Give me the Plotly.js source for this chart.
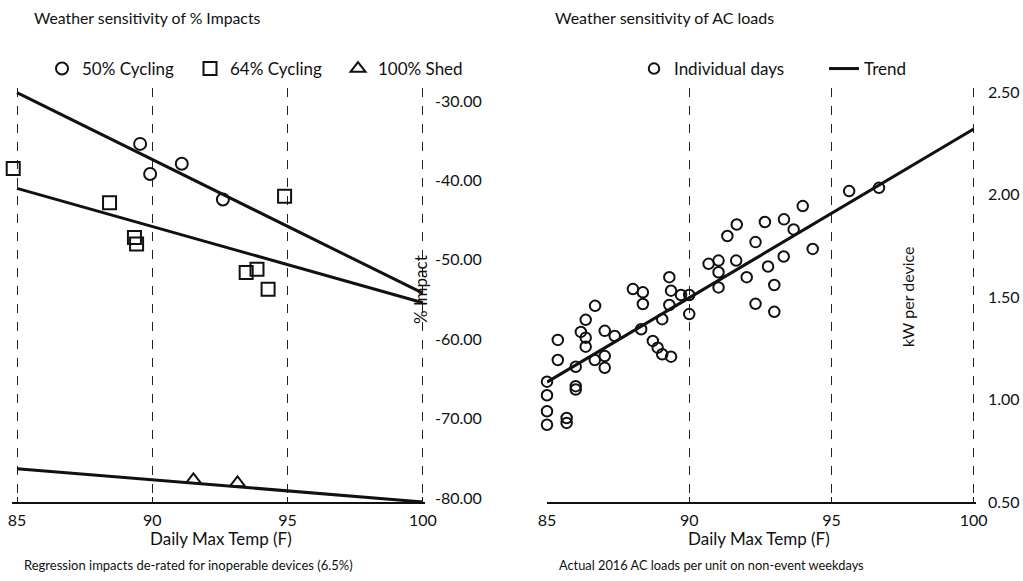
<!DOCTYPE html>
<html>
<head>
<meta charset="utf-8">
<script src="https://cdn.plot.ly/plotly-3.0.1.min.js"></script>
<style>html,body{margin:0;padding:0;background:#fff}#chart{width:1023px;height:581px}</style>
</head>
<body>
<div id="chart"></div>
<script>
// ---- Left panel: weather sensitivity of % impacts ----
const cyc50Temp = [89.55, 89.92, 91.09, 92.61];
const cyc50Impact = [-35.4, -39.2, -37.9, -42.4];
const cyc64Temp = [84.86, 88.42, 89.34, 89.42, 93.47, 93.87, 94.28, 94.89];
const cyc64Impact = [-38.5, -42.8, -47.2, -48.0, -51.6, -51.2, -53.7, -42.0];
const shedTemp = [91.52, 93.15];
const shedImpact = [-77.7, -78.1];
const trendTemp = [85, 100];
const trend50 = [-28.95, -54.2];
const trend64 = [-41.0, -55.4];
const trend100 = [-76.3, -80.5];
const impactTicks = [-30, -40, -50, -60, -70, -80];
const impactTickText = ['-30.00', '-40.00', '-50.00', '-60.00', '-70.00', '-80.00'];

// ---- Right panel: weather sensitivity of AC loads ----
const dayTemp = [85.0, 85.0, 85.0, 85.0, 85.69, 85.69, 86.01, 86.01, 85.38, 85.38,
  86.01, 86.36, 86.19, 86.36, 86.36, 86.69, 87.03, 87.38, 87.03, 87.03,
  86.68, 88.02, 88.37, 88.37, 88.31, 88.72, 88.89, 89.05, 89.36, 89.30,
  89.36, 89.30, 89.05, 89.71, 90.0, 90.0, 91.03, 91.03, 90.68, 91.03,
  91.65, 92.02, 91.34, 91.67, 92.33, 92.66, 93.33, 93.67, 93.99, 93.32,
  92.77, 92.99, 92.33, 92.99, 94.34, 95.62, 96.67];
const dayLoad = [1.087, 1.021, 0.943, 0.877, 0.910, 0.886, 1.065, 1.049, 1.193, 1.291,
  1.160, 1.389, 1.330, 1.302, 1.258, 1.457, 1.335, 1.310, 1.212, 1.155,
  1.193, 1.539, 1.523, 1.466, 1.343, 1.286, 1.253, 1.221, 1.209, 1.597,
  1.531, 1.461, 1.392, 1.510, 1.510, 1.417, 1.547, 1.621, 1.662, 1.678,
  1.678, 1.597, 1.798, 1.854, 1.768, 1.866, 1.879, 1.830, 1.944, 1.698,
  1.649, 1.559, 1.467, 1.428, 1.735, 2.017, 2.033];
const loadTrendTemp = [85, 100];
const loadTrend = [1.085, 2.32];
const loadTicks = [0.5, 1.0, 1.5, 2.0, 2.5];
const loadTickText = ['0.50', '1.00', '1.50', '2.00', '2.50'];
const tempTicks = [85, 90, 95, 100];

const FONT = 'Lato, "Liberation Sans", sans-serif';
const INK = '#111111';

const mk = (sym, size) => ({symbol: sym, size: size, color: INK, line: {color: INK, width: 2}});

const traces = [
  {x: trendTemp, y: trend50, mode: 'lines', line: {color: INK, width: 3}, showlegend: false, xaxis: 'x', yaxis: 'y', hoverinfo: 'skip'},
  {x: trendTemp, y: trend64, mode: 'lines', line: {color: INK, width: 3}, showlegend: false, xaxis: 'x', yaxis: 'y', hoverinfo: 'skip'},
  {x: trendTemp, y: trend100, mode: 'lines', line: {color: INK, width: 3}, showlegend: false, xaxis: 'x', yaxis: 'y', hoverinfo: 'skip'},
  {x: cyc50Temp, y: cyc50Impact, mode: 'markers', name: '50% Cycling', marker: mk('circle-open', 12), xaxis: 'x', yaxis: 'y', legend: 'legend', cliponaxis: false},
  {x: cyc64Temp, y: cyc64Impact, mode: 'markers', name: '64% Cycling', marker: mk('square-open', 13), xaxis: 'x', yaxis: 'y', legend: 'legend', cliponaxis: false},
  {x: shedTemp, y: shedImpact, mode: 'markers', name: '100% Shed', marker: mk('triangle-up-open', 13), xaxis: 'x', yaxis: 'y', legend: 'legend', cliponaxis: false},
  {x: dayTemp, y: dayLoad, mode: 'markers', name: 'Individual days', marker: mk('circle-open', 10.5), xaxis: 'x2', yaxis: 'y2', legend: 'legend2', cliponaxis: false},
  {x: loadTrendTemp, y: loadTrend, mode: 'lines', name: 'Trend', line: {color: INK, width: 3}, xaxis: 'x2', yaxis: 'y2', legend: 'legend2'}
];

const W = 1023, H = 581;
const px = v => v / W, py = v => 1 - v / H;

const xBase = {
  tickvals: tempTicks, ticktext: tempTicks.map(String),
  showgrid: true, gridcolor: '#222', griddash: 'dash', gridwidth: 1,
  showline: true, linecolor: INK, linewidth: 2, ticks: 'inside', ticklen: 5, tickcolor: INK,
  zeroline: false, tickfont: {family: FONT, size: 16, color: INK}, fixedrange: true, ticklabelstandoff: 3
};
const yBase = {
  side: 'right', showgrid: false, zeroline: false, showline: false, ticks: '',
  tickfont: {family: FONT, size: 16, color: INK}, fixedrange: true
};

const layout = {
  width: W, height: H,
  margin: {l: 0, r: 0, t: 0, b: 0},
  paper_bgcolor: '#fff', plot_bgcolor: 'rgba(0,0,0,0)',
  font: {family: FONT, color: INK},
  xaxis: Object.assign({}, xBase, {domain: [px(11.6), px(425)], range: [84.8, 100.08], anchor: 'y'}),
  yaxis: Object.assign({}, yBase, {domain: [py(502), py(88)], range: [-80.5, -28.36], tickvals: impactTicks, ticktext: impactTickText, anchor: 'x', ticklabelstandoff: 9}),
  xaxis2: Object.assign({}, xBase, {domain: [px(547), px(976)], range: [85, 100.08], anchor: 'y2'}),
  yaxis2: Object.assign({}, yBase, {domain: [py(502), py(88)], range: [0.5, 2.52], tickvals: loadTicks, ticktext: loadTickText, anchor: 'x2', ticklabelstandoff: 11}),
  legend: {orientation: 'h', x: px(42), y: py(69), xanchor: 'left', yanchor: 'middle',
    font: {family: FONT, size: 17, color: INK}, bgcolor: 'rgba(0,0,0,0)', entrywidthmode: 'pixels', entrywidth: 103, itemclick: false},
  legend2: {orientation: 'h', x: px(634), y: py(69), xanchor: 'left', yanchor: 'middle',
    font: {family: FONT, size: 17, color: INK}, bgcolor: 'rgba(0,0,0,0)', entrywidthmode: 'pixels', entrywidth: 145, itemclick: false},
  annotations: [
    {text: 'Weather sensitivity of % Impacts', xref: 'paper', yref: 'paper', x: px(32), y: py(17), xanchor: 'left', yanchor: 'middle', showarrow: false, font: {family: FONT, size: 15.8, color: INK}},
    {text: 'Weather sensitivity of AC loads', xref: 'paper', yref: 'paper', x: px(553), y: py(17), xanchor: 'left', yanchor: 'middle', showarrow: false, font: {family: FONT, size: 16, color: INK}},
    {text: 'Daily Max Temp (F)', xref: 'paper', yref: 'paper', x: px(221), y: py(538), xanchor: 'center', yanchor: 'middle', showarrow: false, font: {family: FONT, size: 17, color: INK}},
    {text: 'Daily Max Temp (F)', xref: 'paper', yref: 'paper', x: px(759), y: py(538), xanchor: 'center', yanchor: 'middle', showarrow: false, font: {family: FONT, size: 17, color: INK}},
    {text: '% Impact', xref: 'paper', yref: 'paper', x: px(420), y: py(290), xanchor: 'center', yanchor: 'middle', textangle: -90, showarrow: false, font: {family: FONT, size: 17, color: INK}},
    {text: 'kW per device', xref: 'paper', yref: 'paper', x: px(907), y: py(297), xanchor: 'center', yanchor: 'middle', textangle: -90, showarrow: false, font: {family: FONT, size: 16, color: INK}},
    {text: 'Regression impacts de-rated for inoperable devices (6.5%)', xref: 'paper', yref: 'paper', x: px(22), y: py(565), xanchor: 'left', yanchor: 'middle', showarrow: false, font: {family: FONT, size: 13, color: INK}},
    {text: 'Actual 2016 AC loads per unit on non-event weekdays', xref: 'paper', yref: 'paper', x: px(557), y: py(565), xanchor: 'left', yanchor: 'middle', showarrow: false, font: {family: FONT, size: 12.8, color: INK}}
  ]
};

Plotly.newPlot('chart', traces, layout, {staticPlot: true, displayModeBar: false});
</script>
</body>
</html>
